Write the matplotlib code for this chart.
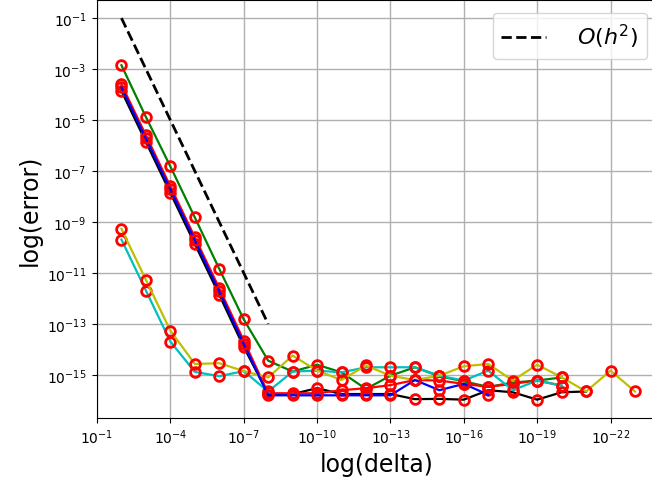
import numpy as np
import matplotlib
matplotlib.use("Agg")
import matplotlib.pyplot as plt
from matplotlib.ticker import NullLocator

# delta exponents: delta = 10**(-k)
k_all = list(range(2, 24))

# log10(error) values
green_log = [-2.85, -4.88, -6.82, -8.82, -10.84, -12.82, -14.44, -14.87, -14.60, -14.90,
             -15.55, -15.03, -14.70, -15.05, -15.25, -15.47, -15.30, -15.22, -15.10]
black_log = [-3.86, -5.86, -7.86, -9.86, -11.86, -13.90, -15.75, -15.75, -15.52, -15.75,
             -15.75, -15.75, -15.95, -15.94, -15.97, -15.60, -15.68, -15.97, -15.68, -15.65]
red_log = [-3.60, -5.60, -7.60, -9.60, -11.60, -13.65, -15.72, -15.72, -15.72, -15.60,
           -15.52, -15.40, -15.20, -15.22, -15.35, -15.47, -15.35, -15.22, -15.42]
blue_log = [-3.72, -5.72, -7.72, -9.72, -11.72, -13.78, -15.80, -15.80, -15.80, -15.80,
            -15.80, -15.80, -15.20, -15.60, -15.35, -15.78]
cyan_log = [-9.69, -11.69, -13.69, -14.88, -15.05, -14.85, -15.65, -14.87, -14.83, -14.90,
            -14.70, -14.70, -14.70, -15.03, -15.22, -14.83, -15.60, -15.22, -15.42]
yellow_log = [-9.27, -11.27, -13.26, -14.57, -14.54, -14.85, -15.10, -14.24, -14.83, -15.20,
              -14.63, -15.03, -15.20, -15.03, -14.66, -14.57, -15.22, -14.60, -15.09, -15.65,
              -14.83, -15.65]

# reference O(h^2) line range (exponents)
ref_k = [2, 8]
ref_coef = 1e3

series = [
    ("g", green_log),
    ("k", black_log),
    ("r", red_log),
    ("c", cyan_log),
    ("y", yellow_log),
    ("b", blue_log),
]

fig = plt.figure(figsize=(6.52, 4.89), dpi=100)
W, H = 652, 489
left_px, right_px, top_px, bottom_px = 96.5, 657, 1, 419
ax = fig.add_axes([left_px / W, 1 - bottom_px / H, (right_px - left_px) / W, (bottom_px - top_px) / H])

for color, vals in series:
    n = len(vals)
    x = 10.0 ** (-np.array(k_all[:n], dtype=float))
    y = 10.0 ** np.array(vals)
    ax.plot(x, y, color=color, lw=1.6, marker="o", ms=7, mfc="none",
            mec="red", mew=2.0, zorder=3)

xr = 10.0 ** (-np.array(ref_k, dtype=float))
ax.plot(xr, ref_coef * xr ** 2, "k--", lw=2, label=r"$O(h^2)$", zorder=4)

ax.set_xscale("log")
ax.set_yscale("log")
ax.set_xlim(10 ** -0.98, 10 ** -23.9)
ax.set_ylim(10 ** -16.69, 10 ** -0.29)

ax.set_xticks([10.0 ** e for e in range(-1, -23, -3)])
ax.set_yticks([10.0 ** e for e in range(-1, -16, -2)])
ax.xaxis.set_minor_locator(NullLocator())
ax.yaxis.set_minor_locator(NullLocator())

ax.grid(True, color="#b0b0b0", lw=1.0)
ax.set_axisbelow(True)
ax.tick_params(labelsize=10)

ax.set_xlabel("log(delta)", fontsize=17, labelpad=4)
ax.set_ylabel("log(error)", fontsize=17, labelpad=4)

ax.legend(loc="upper right", fontsize=16, handlelength=2.0, handletextpad=1.4,
          bbox_to_anchor=(647 / W, 1 - 14 / H), bbox_transform=fig.transFigure,
          borderaxespad=0)

fig.savefig("out.png", dpi=100)
